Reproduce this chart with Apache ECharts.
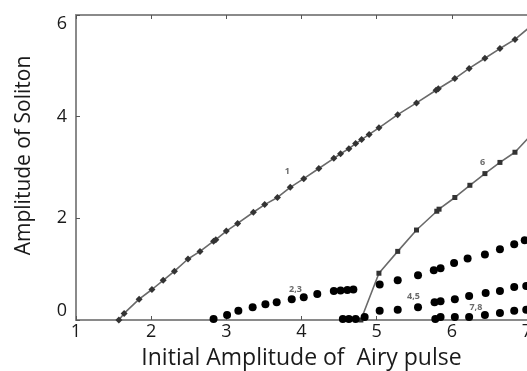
<!DOCTYPE html>
<html><head><meta charset="utf-8">
<script src="https://cdn.jsdelivr.net/npm/echarts@6/dist/echarts.min.js"></script>
<style>html,body{margin:0;padding:0;background:#fff}#c{width:527px;height:371px}</style>
</head><body><div id="c"></div>
<script>
// Series 1 (line with diamond markers)
const s1X = [1.57,1.64,1.84,2.01,2.16,2.31,2.49,2.65,2.83,2.86,3.0,3.15,3.36,3.51,3.68,3.85,4.03,4.23,4.43,4.52,4.63,4.72,4.8,4.9,5.03,5.28,5.53,5.79,5.82,6.04,6.23,6.44,6.64,6.84,7.01];
const s1Y = [0,0.13,0.41,0.6,0.78,0.96,1.2,1.35,1.55,1.58,1.75,1.9,2.12,2.27,2.41,2.61,2.78,2.98,3.18,3.27,3.37,3.47,3.55,3.65,3.78,4.04,4.27,4.52,4.55,4.75,4.95,5.15,5.34,5.52,5.73];
// Series 6 (line with markers)
const s6X = [4.79,5.03,5.28,5.53,5.8,5.83,6.04,6.24,6.44,6.64,6.84,7.01];
const s6Y = [0,0.92,1.35,1.77,2.14,2.18,2.41,2.65,2.88,3.1,3.3,3.57];
// Dotted branches (black dots)
const d23X = [2.83,3.01,3.16,3.35,3.52,3.67,3.87,4.03,4.21,4.43,4.52,4.61,4.69,5.04,5.28,5.55,5.76,5.85,6.03,6.21,6.44,6.64,6.83,6.97];
const d23Y = [0.02,0.1,0.18,0.25,0.31,0.35,0.41,0.45,0.51,0.57,0.58,0.59,0.6,0.7,0.78,0.88,0.98,1.02,1.12,1.21,1.29,1.39,1.49,1.57];
const d45X = [4.55,4.63,4.72,4.84,5.04,5.28,5.55,5.77,5.85,6.04,6.23,6.45,6.64,6.83,6.99];
const d45Y = [0.02,0.02,0.02,0.06,0.18,0.2,0.25,0.35,0.37,0.41,0.47,0.53,0.57,0.65,0.67];
const d78X = [5.78,5.85,6.04,6.23,6.44,6.64,6.83,6.99];
const d78Y = [0.02,0.06,0.06,0.06,0.1,0.14,0.18,0.2];
// Curve labels
const labText = ['1','6','2,3','4,5','7,8'];
const labX = [3.81,6.41,3.92,5.49,6.32];
const labY = [2.93,3.1,0.6,0.47,0.25];
const xTicks = [1,2,3,4,5,6,7];
const yTicks = [0,2,4,6];

const zip = (a,b) => a.map((v,i)=>[v,b[i]]);
const chart = echarts.init(document.getElementById('c'));
const txt = '#1a1a1a';
const frame = '#8a8a8a';
const font = 'Open Sans, Liberation Sans, Arial, sans-serif';
const dots = (x,y) => ({type:'scatter', data:zip(x,y), symbol:'circle', symbolSize:8,
  itemStyle:{color:'#000', opacity:1}, z:3, silent:true});
chart.setOption({
  animation:false,
  grid:{left:76, right:0, top:15, bottom:51, outerBoundsMode:'none', containLabel:false},
  xAxis:[{type:'value', min:xTicks[0], max:xTicks[xTicks.length-1], interval:1,
    axisLine:{show:true, lineStyle:{color:frame, width:2}},
    axisTick:{inside:true, length:4, lineStyle:{color:'#555'}},
    splitLine:{show:false},
    axisLabel:{color:txt, fontSize:18, fontFamily:font, margin:3},
    name:'Initial Amplitude of  Airy pulse', nameLocation:'middle', nameGap:27,
    nameTextStyle:{color:txt, fontSize:23, fontFamily:font}},
   {type:'value', position:'top', min:1, max:7, interval:1,
    axisLine:{show:true, lineStyle:{color:frame, width:2}},
    axisTick:{inside:true, length:4, lineStyle:{color:'#555'}},
    axisLabel:{show:false}, splitLine:{show:false}}],
  yAxis:[{type:'value', min:yTicks[0], max:yTicks[yTicks.length-1], interval:2,
    axisLine:{show:true, lineStyle:{color:frame, width:2}},
    axisTick:{inside:true, length:4, lineStyle:{color:'#555'}},
    splitLine:{show:false},
    axisLabel:{color:txt, fontSize:18, fontFamily:font, margin:9,
      verticalAlignMinLabel:'bottom', verticalAlignMaxLabel:'top'},
    name:'Amplitude of Soliton', nameLocation:'middle', nameGap:41,
    nameTextStyle:{color:txt, fontSize:21, fontFamily:font, padding:[0,0,0,24]}}],
  series:[
    {type:'line', data:zip(s1X,s1Y), symbol:'diamond', symbolSize:7, showAllSymbol:true,
      lineStyle:{color:'#6a6a6a', width:1.6}, itemStyle:{color:'#333'}, z:2, silent:true},
    {type:'line', data:zip(s6X,s6Y), symbol:'rect', symbolSize:5, showAllSymbol:true,
      lineStyle:{color:'#6a6a6a', width:1.6}, itemStyle:{color:'#333'}, z:2, silent:true},
    dots(d23X,d23Y), dots(d45X,d45Y), dots(d78X,d78Y),
    {type:'scatter', data:labX.map((v,i)=>({value:[v,labY[i]], name:labText[i]})), symbolSize:0,
      label:{show:true, position:'inside', formatter:p=>p.name, color:'#444', fontSize:9,
        fontWeight:'bold', fontFamily:font}, silent:true}
  ]
});
</script></body></html>
